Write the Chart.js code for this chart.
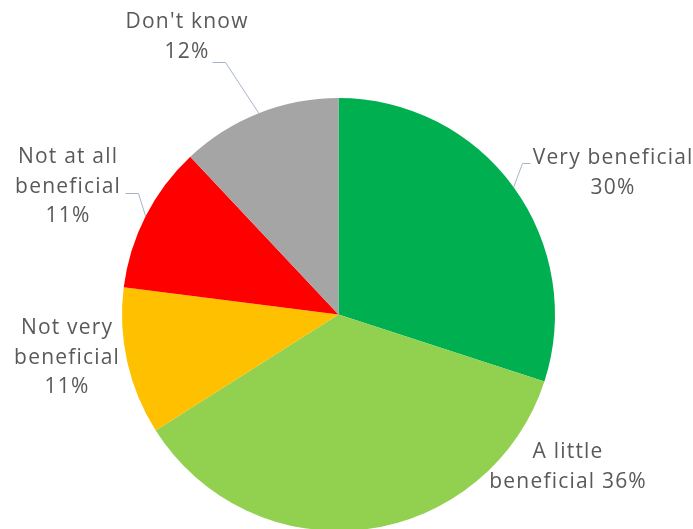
<!DOCTYPE html>
<html><head><meta charset="utf-8">
<script src="https://cdn.jsdelivr.net/npm/chart.js@4/dist/chart.umd.min.js"></script>
<style>
html,body{margin:0;padding:0;background:#fff;overflow:hidden;}
#wrap{position:relative;width:693px;height:540px;}
</style></head>
<body>
<div id="wrap"><canvas id="c"></canvas></div>
<script>
const categories = ['Very beneficial', 'A little beneficial', 'Not very beneficial', 'Not at all beneficial', "Don't know"];
const values = [30, 36, 11, 11, 12];
const colors = ['#00B050', '#92D050', '#FFC000', '#FF0000', '#A5A5A5'];
// how each category label is broken into lines (last line gets the percentage)
const labelBreaks = [['Very beneficial', ''], ['A little', 'beneficial '], ['Not very', 'beneficial', ''], ['Not at all', 'beneficial', ''], ["Don't know", '']];

// label layout relative to pie center (px): line centres x, first line middle y; elbow for leader
const layout = [
  {xs:[274,274], y:-156, leader:{x1:184, x2:192, y:-151}},
  {xs:[229,229], y:138},
  {xs:[-272,-272,-272], y:14},
  {xs:[-271,-271,-271], y:-157, leader:{x1:-213, x2:-200, y:-121}},
  {xs:[-152,-152], y:-292, leader:{x1:-126, x2:-113, y:-252}}
];

const labelPlugin = {
  id: 'labels',
  afterDraw(chart) {
    const ctx = chart.ctx;
    const meta = chart.getDatasetMeta(0);
    ctx.save();
    ctx.font = '21px "Open Sans", sans-serif';
    try { ctx.letterSpacing = '1.2px'; } catch (e) {}
    ctx.fillStyle = '#595959';
    ctx.textAlign = 'center';
    ctx.textBaseline = 'middle';
    meta.data.forEach((arc, i) => {
      const cx = arc.x, cy = arc.y;
      const L = layout[i];
      const lines = labelBreaks[i].slice();
      lines[lines.length - 1] = lines[lines.length - 1] + values[i] + '%';
      lines.forEach((t, k) => {
        ctx.fillText(t, cx + L.xs[k] + 0.6, cy + L.y + k * 29.5);
      });
      if (L.leader) {
        const mid = (arc.startAngle + arc.endAngle) / 2;
        const ex = cx + Math.cos(mid) * arc.outerRadius;
        const ey = cy + Math.sin(mid) * arc.outerRadius;
        ctx.strokeStyle = '#A6B4C8';
        ctx.lineWidth = 1;
        ctx.beginPath();
        const right = L.leader.x1 > 0;
        ctx.moveTo(cx + (right ? L.leader.x2 : L.leader.x1), cy + L.leader.y);
        ctx.lineTo(cx + (right ? L.leader.x1 : L.leader.x2), cy + L.leader.y);
        ctx.lineTo(ex, ey);
        ctx.stroke();
      }
    });
    ctx.restore();
  }
};

new Chart(document.getElementById('c'), {
  type: 'pie',
  data: {
    labels: categories,
    datasets: [{data: values, backgroundColor: colors, borderWidth: 0}]
  },
  options: {
    responsive: true,
    maintainAspectRatio: false,
    animation: false,
    layout: {padding: {top: 98, bottom: 9, left: 0, right: 16}},
    plugins: {legend: {display: false}, tooltip: {enabled: false}}
  },
  plugins: [labelPlugin]
});
</script>
</body></html>
